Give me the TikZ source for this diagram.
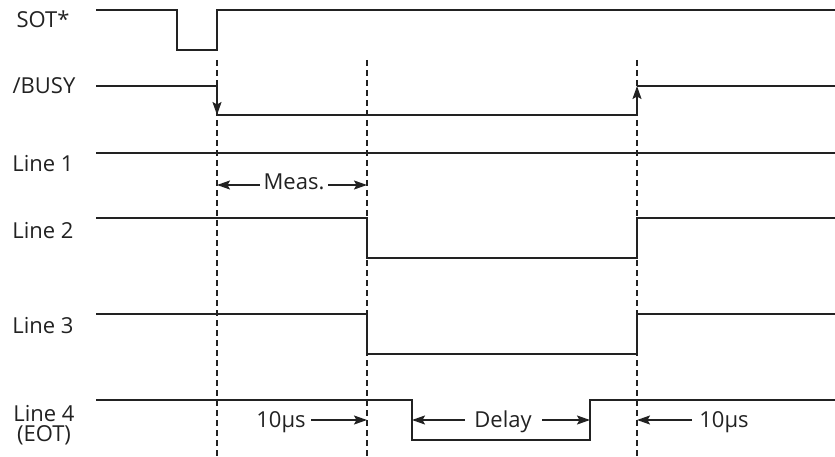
\documentclass[tikz,border=0pt]{standalone}
\usepackage{fontspec}
\setmainfont{Open Sans}
\usetikzlibrary{arrows.meta}
\definecolor{ink}{HTML}{222222}
\begin{document}
\begin{tikzpicture}[x=1pt,y=-1pt,
  sig/.style={draw=ink, line width=1.7pt, line join=miter},
  guide/.style={draw=ink, line width=1.6pt, dash pattern=on 6pt off 4pt},
  lbl/.style={font=\fontsize{22}{19}\selectfont, anchor=base, inner sep=0pt, text=ink},
  dimarrow/.style={draw=ink, line width=1.7pt, -{Stealth[length=13pt,width=9pt,inset=2.5pt]}},
]
\useasboundingbox (0,0) rectangle (835,457);

% labels
\node[lbl] (lsot) at (43,28) {SOT*};
\node[lbl] (lbusy) at (44,94) {/BUSY};
\node[lbl] (l1) at (43,172) {Line 1};
\node[lbl] (l2) at (43,238) {Line 2};
\node[lbl] (l3) at (43,333) {Line 3};
\node[lbl, font=\fontsize{22}{20.5}\selectfont, align=center, anchor=center] (l4) at (44,425) {Line 4\\(EOT)};

% dashed guides
\coordinate (ga1) at (217,60); \coordinate (ga2) at (217,457);
\coordinate (gb1) at (367,60); \coordinate (gb2) at (367,457);
\coordinate (gc1) at (637,60); \coordinate (gc2) at (637,457);
\draw[guide] (ga1) -- (ga2);
\draw[guide] (gb1) -- (gb2);
\draw[guide] (gc1) -- (gc2);

% SOT*
\draw[sig] (96,10) -- (177,10) -- (177,50) -- (217,50) -- (217,10) -- (835,10);
% /BUSY
\coordinate (b1) at (217,86); \coordinate (b2) at (217,115);
\coordinate (b3) at (637,115); \coordinate (b4) at (637,86);
\draw[sig] (96,86) -- (b1);
\draw[dimarrow] (b1) -- (b2);
\draw[sig] (b2) -- (b3);
\draw[dimarrow] (b3) -- (b4);
\draw[sig] (b4) -- (835,86);
% Line 1
\draw[sig] (96,153) -- (835,153);
% Line 2
\draw[sig] (96,218) -- (367,218) -- (367,258) -- (637,258) -- (637,218) -- (835,218);
% Line 3
\draw[sig] (96,314) -- (367,314) -- (367,354) -- (637,354) -- (637,314) -- (835,314);
% Line 4
\draw[sig] (96,400) -- (412,400) -- (412,440) -- (590,440) -- (590,400) -- (835,400);

% Meas.
\node[lbl] (meas) at (294,190) {Meas.};
\coordinate (m1) at (260,185); \coordinate (m2) at (217,185);
\coordinate (m3) at (328,185); \coordinate (m4) at (367,185);
\draw[dimarrow] (m1) -- (m2);
\draw[dimarrow] (m3) -- (m4);

% 10us left
\node[lbl] (t1) at (281,427) {10µs};
\coordinate (t1a) at (311,420); \coordinate (t1b) at (367,420);
\draw[dimarrow] (t1a) -- (t1b);

% Delay
\node[lbl] (dl) at (503,427) {Delay};
\coordinate (d1) at (465,420); \coordinate (d2) at (412,420);
\coordinate (d3) at (542,420); \coordinate (d4) at (590,420);
\draw[dimarrow] (d1) -- (d2);
\draw[dimarrow] (d3) -- (d4);

% 10us right
\node[lbl] (t2) at (724,427) {10µs};
\coordinate (t2a) at (692,420); \coordinate (t2b) at (637,420);
\draw[dimarrow] (t2a) -- (t2b);
\end{tikzpicture}
\end{document}
